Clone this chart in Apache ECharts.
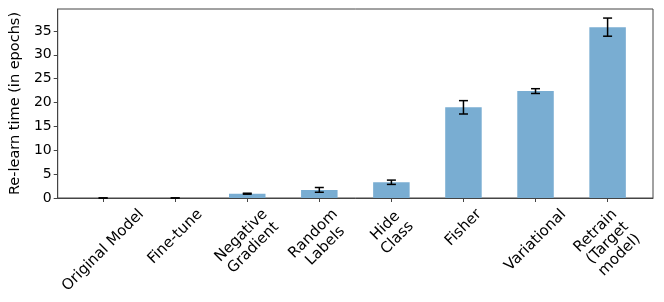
<!DOCTYPE html>
<html>
<head>
<meta charset="utf-8">
<script src="https://cdn.jsdelivr.net/npm/echarts@6/dist/echarts.min.js"></script>
<style>
html,body{margin:0;padding:0;background:#fff;}
#chart{width:664px;height:302px;}
</style>
</head>
<body>
<div id="chart"></div>
<script>
const categories = ['Original Model', 'Fine-tune', 'Negative\nGradient', 'Random\nLabels', 'Hide\nClass', 'Fisher', 'Variational', 'Retrain\n(Target\nmodel)'];
const relearnTime = [0, 0, 0.9, 1.7, 3.3, 19.0, 22.4, 35.8];
const errors = [0, 0, 0.1, 0.5, 0.45, 1.4, 0.5, 1.9];
const yTicks = [0, 5, 10, 15, 20, 25, 30, 35];

const FONT = '15px "DejaVu Sans"';
const LINE_H = 17;
const ctx = document.createElement('canvas').getContext('2d');
ctx.font = FONT;
function labelBoxHeight(t) {
  const lines = t.split('\n');
  let w = 0;
  lines.forEach(l => { w = Math.max(w, ctx.measureText(l).width); });
  const h = lines.length * LINE_H;
  return (w + h) * Math.SQRT1_2;
}

const chart = echarts.init(document.getElementById('chart'), null, {renderer: 'canvas'});
const idx = categories.map((c, i) => i);

const option = {
  animation: false,
  backgroundColor: '#fff',
  grid: {left: 50, right: 11, top: 9, bottom: 104, show: true, borderColor: '#444', borderWidth: 1, backgroundColor: 'transparent'},
  xAxis: {
    type: 'value', min: -0.63, max: 7.63,
    axisLine: {show: true, onZero: false, lineStyle: {color: '#444', width: 1}},
    axisTick: {show: true, customValues: idx, length: 4, inside: false, lineStyle: {color: '#444'}},
    axisLabel: {show: false},
    splitLine: {show: false}
  },
  yAxis: {
    type: 'value', min: 0, max: 39.6, interval: 5,
    name: 'Re-learn time (in epochs)', nameLocation: 'middle', nameGap: 27,
    nameTextStyle: {fontFamily: 'DejaVu Sans', fontSize: 14.5, color: '#000'},
    axisLine: {show: true, onZero: false, lineStyle: {color: '#444', width: 1}},
    axisTick: {show: true, length: 4, lineStyle: {color: '#444'}, customValues: yTicks},
    axisLabel: {fontFamily: 'DejaVu Sans', fontSize: 14, color: '#000', margin: 6, customValues: yTicks},
    splitLine: {show: false}
  },
  series: [
    {
      type: 'bar',
      data: relearnTime.map((v, i) => [i, v]),
      barWidth: 36.5,
      itemStyle: {color: '#79add2'},
      z: 2
    },
    {
      type: 'custom',
      data: relearnTime.map((v, i) => [i, v, errors[i]]),
      clip: false,
      z: 5,
      renderItem: function (params, api) {
        const x = api.value(0), v = api.value(1), e = api.value(2);
        const top = api.coord([x, v + e]);
        const bot = api.coord([x, v - e]);
        const hw = 4.5;
        const st = {stroke: '#000', lineWidth: 1.5};
        return {type: 'group', children: [
          {type: 'line', shape: {x1: top[0], y1: top[1], x2: bot[0], y2: bot[1]}, style: st},
          {type: 'line', shape: {x1: top[0] - hw, y1: top[1], x2: top[0] + hw, y2: top[1]}, style: st},
          {type: 'line', shape: {x1: bot[0] - hw, y1: bot[1], x2: bot[0] + hw, y2: bot[1]}, style: st}
        ]};
      }
    },
    {
      type: 'custom',
      data: idx.map(i => [i, 0]),
      clip: false,
      silent: true,
      z: 5,
      renderItem: function (params, api) {
        const i = api.value(0);
        const p = api.coord([i, 0]);
        const t = categories[i];
        const bh = labelBoxHeight(t);
        return {
          type: 'text',
          x: p[0], y: p[1] + 8 + bh / 2,
          rotation: Math.PI / 4,
          style: {text: t, font: FONT, fill: '#000', align: 'center', verticalAlign: 'middle', lineHeight: LINE_H}
        };
      }
    }
  ]
};
chart.setOption(option);
</script>
</body>
</html>
